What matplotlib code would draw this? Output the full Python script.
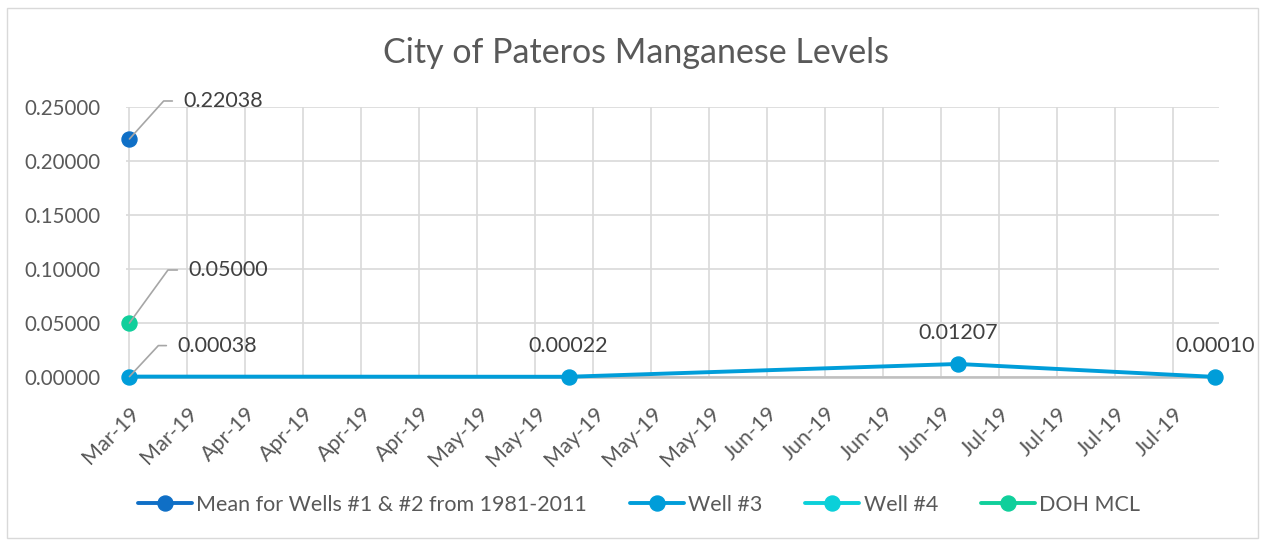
import pandas as pd
import matplotlib
matplotlib.use("Agg")
import matplotlib.pyplot as plt
import matplotlib.dates as mdates
from matplotlib.patches import Rectangle

plt.rcParams['font.family'] = ['Lato', 'DejaVu Sans']

# Datos
fechasMedia = pd.to_datetime(["2019-03-20"])
valoresMedia = [0.22038]
fechasPozo3 = pd.to_datetime(["2019-03-20", "2019-05-12", "2019-06-28", "2019-07-29"])
valoresPozo3 = [0.00038, 0.00022, 0.01207, 0.00010]
fechasPozo4 = pd.to_datetime([])
valoresPozo4 = []
fechasMCL = pd.to_datetime(["2019-03-20"])
valoresMCL = [0.05000]
etiquetasY = [0.0, 0.05, 0.10, 0.15, 0.20, 0.25]
series = ["Mean for Wells #1 & #2 from 1981-2011", "Well #3", "Well #4", "DOH MCL"]
colores = ["#0F6FC6", "#009DD9", "#0BD0D9", "#10CF9B"]

fig = plt.figure(figsize=(12.65, 5.40), dpi=100)
ax = fig.add_axes([126 / 1265, 163 / 540, (1219 - 126) / 1265, 270 / 540])

# Borde del area del grafico
fig.patches.append(Rectangle((7 / 1265, 2 / 540), 1251 / 1265, 530 / 540, transform=fig.transFigure,
                             fill=False, edgecolor="#d9d9d9", linewidth=1))

kw = dict(linewidth=2.8, marker='o', markersize=10.8, solid_capstyle='round', zorder=3, clip_on=False)
ax.plot(fechasMedia, valoresMedia, color=colores[0], label=series[0], **kw)
ax.plot(fechasPozo3, valoresPozo3, color=colores[1], label=series[1], **kw)
ax.plot(fechasPozo4, valoresPozo4, color=colores[2], label=series[2], **kw)
ax.plot(fechasMCL, valoresMCL, color=colores[3], label=series[3], **kw)

# Ejes
ax.set_ylim(0, 0.25)
ax.set_yticks(etiquetasY)
ax.yaxis.set_major_formatter(plt.FuncFormatter(lambda v, p: f"{v:.5f}"))
ticksX = pd.date_range("2019-03-20", "2019-07-29", freq="7D")
ax.set_xticks(ticksX)
ax.xaxis.set_major_formatter(mdates.DateFormatter("%b-%y"))
ax.set_xlim(fechasPozo3[0] - pd.Timedelta(hours=10), fechasPozo3[-1] + pd.Timedelta(hours=12))
ax.tick_params(axis='y', length=0, labelsize=14.8, labelcolor="#595959", pad=18)
ax.tick_params(axis='x', length=0, labelsize=15.5, labelcolor="#595959", pad=19)
for lbl in ax.get_xticklabels():
    lbl.set_rotation(45)
    lbl.set_ha('right')
    lbl.set_rotation_mode('anchor')

ax.grid(True, color="#d9d9d9", linewidth=1.2)
ax.set_axisbelow(True)
for s in ["top", "right", "left"]:
    ax.spines[s].set_visible(False)
ax.spines["bottom"].set_color("#bfbfbf")
ax.spines["bottom"].set_linewidth(1.8)
ax.spines["bottom"].set_zorder(2)

# Etiquetas de datos
guia = dict(arrowstyle='-', color="#a6a6a6", linewidth=1.2, shrinkA=6, shrinkB=0, relpos=(0, 0.5))
def etiquetaGuia(x, y, texto, dx, dy, angulo):
    ax.annotate(texto, xy=(x, y), xytext=(dx, dy), textcoords='offset pixels', ha='left', va='center',
                fontsize=15.5, color="#404040", annotation_clip=False,
                arrowprops=dict(connectionstyle=f"angle,angleA=0,angleB={angulo},rad=0", **guia))

etiquetaGuia(fechasMedia[0], valoresMedia[0], f"{valoresMedia[0]:.5f}", 54, 38, 48)
etiquetaGuia(fechasMCL[0], valoresMCL[0], f"{valoresMCL[0]:.5f}", 59, 53, 54)
etiquetaGuia(fechasPozo3[0], valoresPozo3[0], f"{valoresPozo3[0]:.5f}", 48, 31, 47)
for f, v in zip(fechasPozo3[1:], valoresPozo3[1:]):
    ax.annotate(f"{v:.5f}", xy=(f, v), xytext=(0, 31), textcoords='offset pixels', ha='center', va='center',
                fontsize=15.5, color="#404040", annotation_clip=False)

fig.text(636 / 1265, 1 - 53 / 540, "City of Pateros Manganese Levels", ha='center', va='center',
         fontsize=24.5, color="#595959")

fig.legend(loc='center', bbox_to_anchor=(639 / 1265, 1 - 505 / 540), ncol=4, frameon=False,
           fontsize=15.5, labelcolor="#595959", handlelength=2.5, handletextpad=0.2, columnspacing=2.0)

fig.savefig("out.png", dpi=100)
